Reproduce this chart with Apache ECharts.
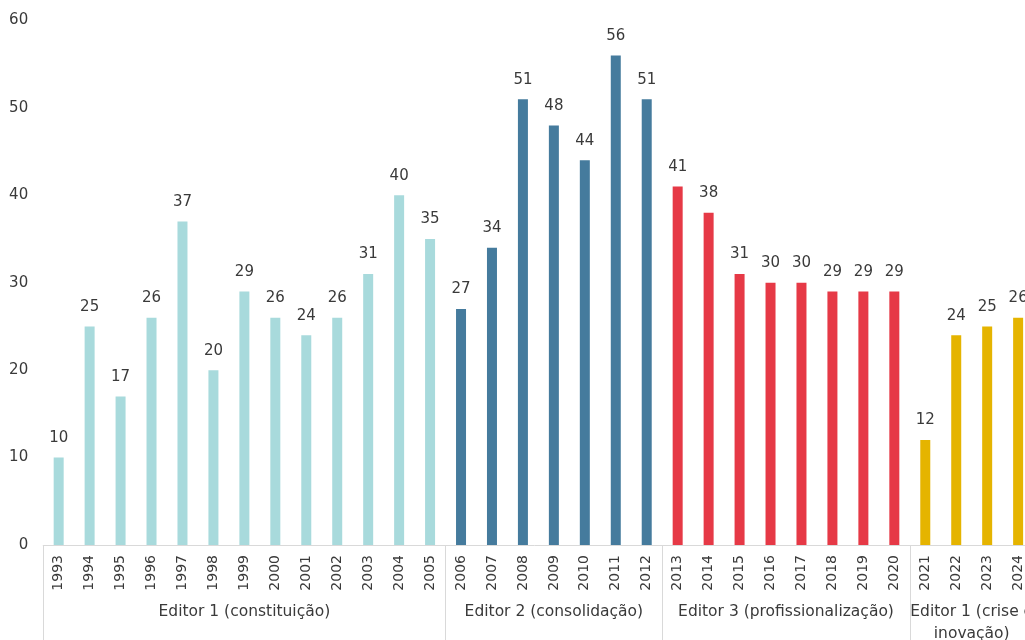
<!DOCTYPE html>
<html>
<head>
<meta charset="utf-8">
<script src="https://cdn.jsdelivr.net/npm/echarts@6/dist/echarts.min.js"></script>
<style>
html,body{margin:0;padding:0;background:#fff;}
#chart{width:1025px;height:640px;}
</style>
</head>
<body>
<div id="chart"></div>
<script>
const years = ['1993','1994','1995','1996','1997','1998','1999','2000','2001','2002','2003','2004','2005',
  '2006','2007','2008','2009','2010','2011','2012',
  '2013','2014','2015','2016','2017','2018','2019','2020',
  '2021','2022','2023','2024'];
const values = [10,25,17,26,37,20,29,26,24,26,31,40,35,
  27,34,51,48,44,56,51,
  41,38,31,30,30,29,29,29,
  12,24,25,26];
const groupNames = ['Editor 1 (constituição)','Editor 2 (consolidação)','Editor 3 (profissionalização)','Editor 1 (crise e\ninovação)'];
const groupSizes = [13,7,8,4];
const groupColors = ['#a8dadc','#457b9d','#e63946','#e5b400'];
const yTicks = [0,10,20,30,40,50,60];

const FONT = '"DejaVu Sans"';
const TXT = '#3a3a3a';

const groupOf = [];
const boundaries = [-0.5];
const centers = [];
let start = 0;
groupSizes.forEach((n, g) => {
  for (let i = 0; i < n; i++) groupOf.push(g);
  centers.push(start + (n - 1) / 2);
  start += n;
  boundaries.push(start - 0.5);
});

const chart = echarts.init(document.getElementById('chart'));
chart.setOption({
  animation: false,
  textStyle: {fontFamily: FONT},
  grid: {left: 43.2, top: 20.5, width: 990.4, height: 524.5, containLabel: false, outerBoundsMode: 'none'},
  xAxis: [{
    type: 'category',
    data: years,
    axisLine: {show: true, lineStyle: {color: '#d9d9d9', width: 1}},
    axisTick: {show: false},
    axisLabel: {rotate: 90, margin: 10, fontSize: 14, color: TXT, fontFamily: FONT, interval: 0}
  }, {
    type: 'value',
    min: -0.5,
    max: years.length - 0.5,
    position: 'bottom',
    splitLine: {show: false},
    axisLine: {show: false},
    axisTick: {show: true, customValues: boundaries, length: 95, lineStyle: {color: '#d9d9d9', width: 1}},
    axisLabel: {
      customValues: centers,
      margin: 56,
      fontSize: 15.5,
      lineHeight: 22,
      color: TXT,
      fontFamily: FONT,
      formatter: v => groupNames[centers.indexOf(v)] || ''
    }
  }],
  yAxis: {
    type: 'value',
    min: yTicks[0],
    max: yTicks[yTicks.length - 1],
    interval: 10,
    splitLine: {show: false},
    axisLine: {show: false},
    axisTick: {show: false},
    axisLabel: {margin: 15, fontSize: 15, color: TXT, fontFamily: FONT}
  },
  series: [{
    type: 'bar',
    xAxisIndex: 0,
    barWidth: 10,
    data: values.map((v, i) => ({value: v, itemStyle: {color: groupColors[groupOf[i]]}})),
    label: {show: true, position: 'top', distance: 12, fontSize: 15, color: TXT, fontFamily: FONT}
  }]
});
</script>
</body>
</html>
